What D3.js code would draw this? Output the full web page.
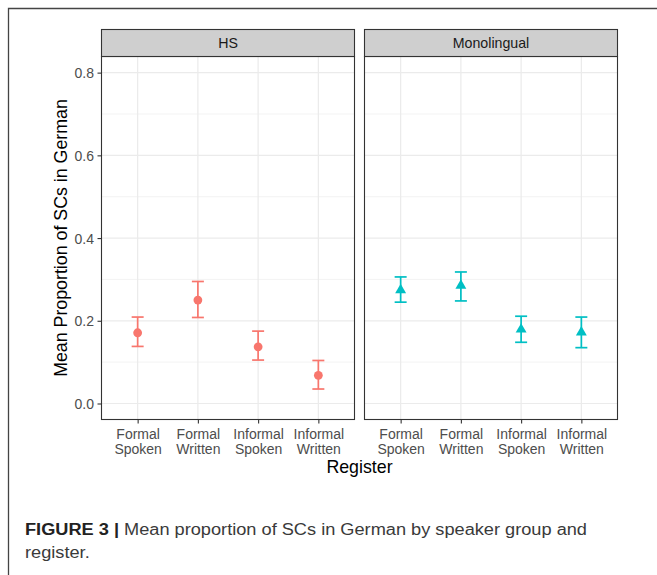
<!DOCTYPE html>
<html>
<head>
<meta charset="utf-8">
<script src="https://cdn.jsdelivr.net/npm/d3@7"></script>
<style>
  html, body { margin: 0; padding: 0; background: #fff; }
  svg { display: block; }
</style>
</head>
<body>
<svg id="chart" width="657" height="575"></svg>
<script>
// Register categories and speaker groups
const registers = ["Formal Spoken", "Formal Written", "Informal Spoken", "Informal Written"];
const groups = ["HS", "Monolingual"];

// Mean proportion of SCs per register, with lower / upper error bounds
const hsMean  = [0.171, 0.250, 0.137, 0.068];
const hsLow   = [0.138, 0.208, 0.105, 0.035];
const hsHigh  = [0.209, 0.295, 0.175, 0.104];

const monoMean = [0.274, 0.285, 0.179, 0.172];
const monoLow  = [0.245, 0.248, 0.148, 0.135];
const monoHigh = [0.306, 0.318, 0.211, 0.209];

const yTicks = [0, 0.2, 0.4, 0.6, 0.8];
const yMinor = [0.1, 0.3, 0.5, 0.7];

const groupColors = ["#F8766D", "#00BFC4"];

const series = [
  { name: groups[0], mean: hsMean, low: hsLow, high: hsHigh, shape: "circle" },
  { name: groups[1], mean: monoMean, low: monoLow, high: monoHigh, shape: "triangle" }
];

const FONT = "Liberation Sans, Arial, sans-serif";
const svg = d3.select("#chart");

// Outer figure frame
svg.append("path")
  .attr("d", "M8.5,575 L8.5,8.5 L657,8.5")
  .attr("fill", "none")
  .attr("stroke", "#444")
  .attr("stroke-width", 1.3);

const panelTop = 56.5, panelBottom = 419.5;
const stripTop = 29.5;
const panelX = [[101.5, 354.5], [364.5, 617.5]];

const y = d3.scaleLinear().domain([-0.0387, 0.839]).range([panelBottom, panelTop]);

series.forEach((s, gi) => {
  const [x0, x1] = panelX[gi];
  const x = d3.scalePoint().domain(registers).range([x0, x1]).padding(0.6);
  const g = svg.append("g");
  const col = groupColors[gi];

  // grid
  g.selectAll(".ymin").data(yMinor).join("line")
    .attr("x1", x0).attr("x2", x1)
    .attr("y1", d => y(d)).attr("y2", d => y(d))
    .attr("stroke", "#ebebeb").attr("stroke-width", 0.6);
  g.selectAll(".ymaj").data(yTicks).join("line")
    .attr("x1", x0).attr("x2", x1)
    .attr("y1", d => y(d)).attr("y2", d => y(d))
    .attr("stroke", "#ebebeb").attr("stroke-width", 1.2);
  g.selectAll(".xmaj").data(registers).join("line")
    .attr("x1", d => x(d)).attr("x2", d => x(d))
    .attr("y1", panelTop).attr("y2", panelBottom)
    .attr("stroke", "#ebebeb").attr("stroke-width", 1.2);

  // error bars
  const eb = g.selectAll(".eb").data(registers).join("g")
    .attr("stroke", col).attr("stroke-width", 1.7).attr("fill", "none");
  eb.append("line")
    .attr("x1", d => x(d)).attr("x2", d => x(d))
    .attr("y1", (d, i) => y(s.low[i])).attr("y2", (d, i) => y(s.high[i]));
  eb.append("line")
    .attr("x1", d => x(d) - 6).attr("x2", d => x(d) + 6)
    .attr("y1", (d, i) => y(s.low[i])).attr("y2", (d, i) => y(s.low[i]));
  eb.append("line")
    .attr("x1", d => x(d) - 6).attr("x2", d => x(d) + 6)
    .attr("y1", (d, i) => y(s.high[i])).attr("y2", (d, i) => y(s.high[i]));

  // points
  if (s.shape === "circle") {
    g.selectAll(".pt").data(registers).join("circle")
      .attr("cx", d => x(d)).attr("cy", (d, i) => y(s.mean[i]))
      .attr("r", 4.4).attr("fill", col);
  } else {
    const r = 6.3;
    g.selectAll(".pt").data(registers).join("path")
      .attr("transform", (d, i) => `translate(${x(d)},${y(s.mean[i])})`)
      .attr("d", `M0,${-r} L${r * 0.866},${r / 2} L${-r * 0.866},${r / 2} Z`)
      .attr("fill", col);
  }

  // panel border
  g.append("rect")
    .attr("x", x0).attr("y", panelTop)
    .attr("width", x1 - x0).attr("height", panelBottom - panelTop)
    .attr("fill", "none").attr("stroke", "#333").attr("stroke-width", 1.1);

  // strip
  g.append("rect")
    .attr("x", x0).attr("y", stripTop)
    .attr("width", x1 - x0).attr("height", panelTop - stripTop)
    .attr("fill", "#cfcfcf").attr("stroke", "#333").attr("stroke-width", 1.1);
  g.append("text")
    .attr("x", (x0 + x1) / 2).attr("y", (stripTop + panelTop) / 2 + 5)
    .attr("text-anchor", "middle")
    .attr("font-family", FONT)
    .attr("font-size", 14.2).attr("fill", "#1a1a1a")
    .text(s.name);

  // x axis
  const xa = g.append("g")
    .attr("transform", `translate(0,${panelBottom})`)
    .call(d3.axisBottom(x).tickSize(4).tickSizeOuter(0).tickFormat(""));
  xa.select(".domain").remove();
  xa.selectAll(".tick line").attr("stroke", "#333").attr("stroke-width", 1.1);
  xa.selectAll(".tick").each(function (d) {
    const words = d.split(" ");
    const t = d3.select(this).append("text")
      .attr("text-anchor", "middle")
      .attr("font-family", FONT)
      .attr("font-size", 14).attr("fill", "#4d4d4d");
    words.forEach((w, k) => {
      t.append("tspan").attr("x", 0).attr("y", 19 + k * 15.5).text(w);
    });
  });
});

// y axis on the first panel
const ya = svg.append("g")
  .attr("transform", `translate(${panelX[0][0]},0)`)
  .call(d3.axisLeft(y).tickValues(yTicks).tickSize(4).tickFormat(d3.format(".1f")));
ya.select(".domain").remove();
ya.selectAll(".tick line").attr("stroke", "#333").attr("stroke-width", 1.1);
ya.selectAll(".tick text")
  .attr("x", -7.5)
  .attr("dy", "0.36em")
  .attr("font-family", FONT)
  .attr("font-size", 14).attr("fill", "#4d4d4d");

// axis titles
svg.append("text")
  .attr("x", (panelX[0][0] + panelX[1][1]) / 2).attr("y", 473)
  .attr("text-anchor", "middle")
  .attr("font-family", FONT)
  .attr("font-size", 17.8).attr("fill", "#000")
  .text("Register");

svg.append("text")
  .attr("transform", `translate(67,${(panelTop + panelBottom) / 2}) rotate(-90)`)
  .attr("text-anchor", "middle")
  .attr("font-family", FONT)
  .attr("font-size", 17.8).attr("fill", "#000")
  .text("Mean Proportion of SCs in German");

// figure caption
const cap = svg.append("text")
  .attr("x", 25).attr("y", 535)
  .attr("font-family", FONT)
  .attr("font-size", 16).attr("fill", "#3a3a3a");
cap.append("tspan").attr("font-weight", "bold").attr("fill", "#222").text("FIGURE 3 | ");
cap.append("tspan").text("Mean proportion of SCs in German by speaker group and");
const capLen = cap.node().getComputedTextLength();
const capScale = 562 / capLen;
cap.attr("textLength", 562).attr("lengthAdjust", "spacingAndGlyphs");

const cap2 = svg.append("text")
  .attr("x", 25).attr("y", 558)
  .attr("font-family", FONT)
  .attr("font-size", 16).attr("fill", "#3a3a3a")
  .text("register.");
cap2.attr("textLength", cap2.node().getComputedTextLength() * capScale)
  .attr("lengthAdjust", "spacingAndGlyphs");
</script>
</body>
</html>
